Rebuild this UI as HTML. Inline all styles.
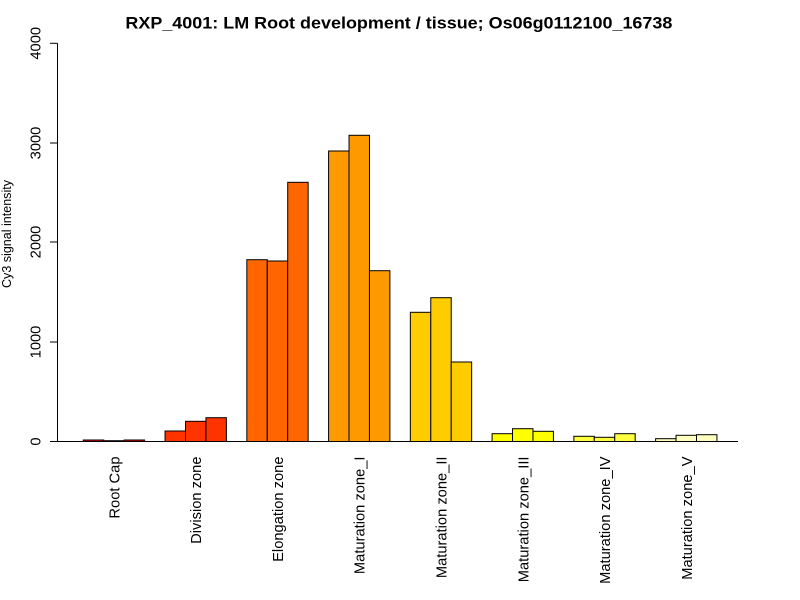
<!DOCTYPE html>
<html>
<head>
<meta charset="utf-8">
<style>
html,body{margin:0;padding:0;background:#fff;}
svg{display:block;}
text{font-family:"Liberation Sans",Arial,sans-serif;fill:#000;}
</style>
</head>
<body>
<svg width="800" height="600" viewBox="0 0 800 600" xmlns="http://www.w3.org/2000/svg">
<rect x="0" y="0" width="800" height="600" fill="#fff"/>
<!-- title -->
<text x="398.9" y="28.3" font-size="17" font-weight="bold" text-anchor="middle" textLength="547" lengthAdjust="spacingAndGlyphs">RXP_4001: LM Root development / tissue; Os06g0112100_16738</text>

<!-- y axis -->
<g stroke="#000" stroke-width="1" fill="none">
<line x1="57.5" y1="43.3" x2="57.5" y2="441.5"/>
<line x1="50" y1="441.5" x2="57.5" y2="441.5"/>
<line x1="50" y1="342" x2="57.5" y2="342"/>
<line x1="50" y1="242" x2="57.5" y2="242"/>
<line x1="50" y1="143" x2="57.5" y2="143"/>
<line x1="50" y1="43.3" x2="57.5" y2="43.3"/>
</g>
<g font-size="14.7" text-anchor="middle">
<text transform="translate(40.5,441.5) rotate(-90)">0</text>
<text transform="translate(40.5,342) rotate(-90)">1000</text>
<text transform="translate(40.5,242) rotate(-90)">2000</text>
<text transform="translate(40.5,143) rotate(-90)">3000</text>
<text transform="translate(40.5,43.3) rotate(-90)">4000</text>
</g>
<text transform="translate(11,234) rotate(-90)" font-size="12.5" text-anchor="middle" textLength="108" lengthAdjust="spacingAndGlyphs">Cy3 signal intensity</text>

<!-- bars -->
<g stroke="#000" stroke-width="1">
<!-- Root Cap -->
<rect x="83.3" y="440" width="20.44" height="1.5" fill="#FF0000"/>
<rect x="103.74" y="440.7" width="20.44" height="0.8" fill="#FF0000"/>
<rect x="124.18" y="440" width="20.44" height="1.5" fill="#FF0000"/>
<!-- Division -->
<rect x="165.06" y="431" width="20.44" height="10.5" fill="#FF3300"/>
<rect x="185.5" y="421.3" width="20.44" height="20.2" fill="#FF3300"/>
<rect x="205.94" y="417.7" width="20.44" height="23.8" fill="#FF3300"/>
<!-- Elongation -->
<rect x="246.82" y="259.7" width="20.44" height="181.8" fill="#FF6600"/>
<rect x="267.26" y="261" width="20.44" height="180.5" fill="#FF6600"/>
<rect x="287.7" y="182.3" width="20.44" height="259.2" fill="#FF6600"/>
<!-- Mat I -->
<rect x="328.58" y="151" width="20.44" height="290.5" fill="#FF9900"/>
<rect x="349.02" y="135.3" width="20.44" height="306.2" fill="#FF9900"/>
<rect x="369.46" y="270.7" width="20.44" height="170.8" fill="#FF9900"/>
<!-- Mat II -->
<rect x="410.34" y="312.3" width="20.44" height="129.2" fill="#FFCC00"/>
<rect x="430.78" y="297.7" width="20.44" height="143.8" fill="#FFCC00"/>
<rect x="451.22" y="362" width="20.44" height="79.5" fill="#FFCC00"/>
<!-- Mat III -->
<rect x="492.1" y="433.7" width="20.44" height="7.8" fill="#FFFF00"/>
<rect x="512.54" y="428.7" width="20.44" height="12.8" fill="#FFFF00"/>
<rect x="532.98" y="431.3" width="20.44" height="10.2" fill="#FFFF00"/>
<!-- Mat IV -->
<rect x="573.86" y="436.3" width="20.44" height="5.2" fill="#FFFF40"/>
<rect x="594.3" y="437.3" width="20.44" height="4.2" fill="#FFFF40"/>
<rect x="614.74" y="433.7" width="20.44" height="7.8" fill="#FFFF40"/>
<!-- Mat V -->
<rect x="655.62" y="438.7" width="20.44" height="2.8" fill="#FFFFBF"/>
<rect x="676.06" y="435.3" width="20.44" height="6.2" fill="#FFFFBF"/>
<rect x="696.5" y="434.7" width="20.44" height="6.8" fill="#FFFFBF"/>
</g>

<!-- baseline -->
<line x1="50" y1="441.5" x2="738" y2="441.5" stroke="#000" stroke-width="1"/>

<!-- x labels -->
<g font-size="14.7" text-anchor="end">
<text transform="translate(119.5,456.5) rotate(-90)">Root Cap</text>
<text transform="translate(201.2,456.5) rotate(-90)">Division zone</text>
<text transform="translate(283,456.5) rotate(-90)">Elongation zone</text>
<text transform="translate(364.7,456.5) rotate(-90)">Maturation zone_I</text>
<text transform="translate(446.5,456.5) rotate(-90)">Maturation zone_II</text>
<text transform="translate(528.3,456.5) rotate(-90)">Maturation zone_III</text>
<text transform="translate(610,456.5) rotate(-90)">Maturation zone_IV</text>
<text transform="translate(691.8,456.5) rotate(-90)">Maturation zone_V</text>
</g>
</svg>
</body>
</html>
